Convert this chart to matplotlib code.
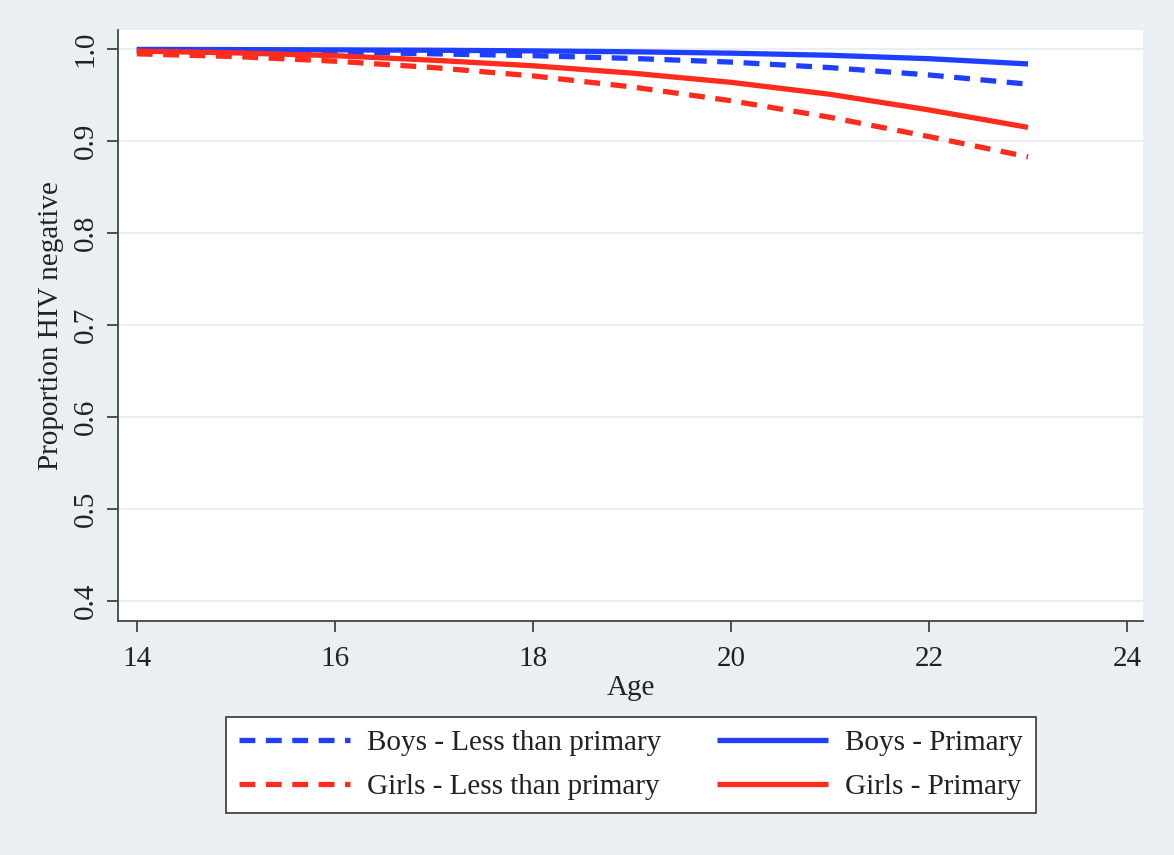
import matplotlib
matplotlib.use("Agg")
import matplotlib.pyplot as plt

ages = [14, 15, 16, 17, 18, 19, 20, 21, 22, 23]
boys_less = [0.999, 0.998, 0.997, 0.995, 0.993, 0.990, 0.986, 0.980, 0.972, 0.962]
boys_primary = [0.9998, 0.9996, 0.9993, 0.9989, 0.9982, 0.9972, 0.9957, 0.9934, 0.9897, 0.984]
girls_less = [0.995, 0.992, 0.987, 0.980, 0.971, 0.959, 0.944, 0.926, 0.905, 0.883]
girls_primary = [0.998, 0.996, 0.993, 0.988, 0.982, 0.974, 0.964, 0.951, 0.934, 0.915]
xticks = [14, 16, 18, 20, 22, 24]
yticks = [0.4, 0.5, 0.6, 0.7, 0.8, 0.9, 1.0]
labels = ["Boys - Less than primary", "Boys - Primary",
          "Girls - Less than primary", "Girls - Primary"]

plt.rcParams['font.family'] = ['Liberation Serif', 'DejaVu Serif']
BG = '#e9eff2'
BLUE = '#1f3fff'
RED = '#ff2b1c'
FS = 21

fig = plt.figure(figsize=(11.74, 8.55), dpi=100, facecolor=BG)
ax = fig.add_axes([0.1005, 0.2737, 0.873, 0.691])
ax.set_facecolor('white')

lw = 3.8
l1, = ax.plot(ages, boys_less, color=BLUE, lw=lw, dashes=(3, 2), dash_capstyle='butt')
l2, = ax.plot(ages, boys_primary, color=BLUE, lw=lw, solid_capstyle='butt')
l3, = ax.plot(ages, girls_less, color=RED, lw=lw, dashes=(3, 2), dash_capstyle='butt')
l4, = ax.plot(ages, girls_primary, color=RED, lw=lw, solid_capstyle='butt')

ax.set_xlim(13.81, 24.16)
ax.set_ylim(0.3783, 1.0207)
ax.set_xticks(xticks)
ax.set_yticks(yticks)
ax.set_yticklabels([f"{v:.1f}" for v in yticks], rotation=90, va='center')
ax.tick_params(axis='both', labelsize=FS, color='#333333', length=8, width=1.2,
               labelcolor='#222222')
ax.tick_params(axis='y', pad=6)
ax.tick_params(axis='x', pad=10)
ax.grid(axis='y', color='#e6eef0', lw=1.2)
ax.set_axisbelow(True)
for s in ['top', 'right']:
    ax.spines[s].set_visible(False)
for s in ['left', 'bottom']:
    ax.spines[s].set_color('#444444')
    ax.spines[s].set_linewidth(1.3)

ax.set_xlabel('Age', fontsize=FS, color='#222222', labelpad=2)
ax.set_ylabel('Proportion HIV negative', fontsize=FS, color='#222222', labelpad=6)

leg = fig.legend([l1, l3, l2, l4],
                 [labels[0], labels[2], labels[1], labels[3]],
                 ncol=2, loc='center',
                 bbox_to_anchor=(0.5375, 0.1053), fontsize=FS,
                 frameon=True, fancybox=False, edgecolor='#444444',
                 facecolor='white', framealpha=1,
                 handlelength=3.8, handletextpad=0.6, columnspacing=1.9,
                 borderpad=0.45, labelspacing=0.6)
leg.get_frame().set_linewidth(1.3)
for t in leg.get_texts():
    t.set_color('#222222')

fig.savefig('out.png', dpi=100, facecolor=BG)
